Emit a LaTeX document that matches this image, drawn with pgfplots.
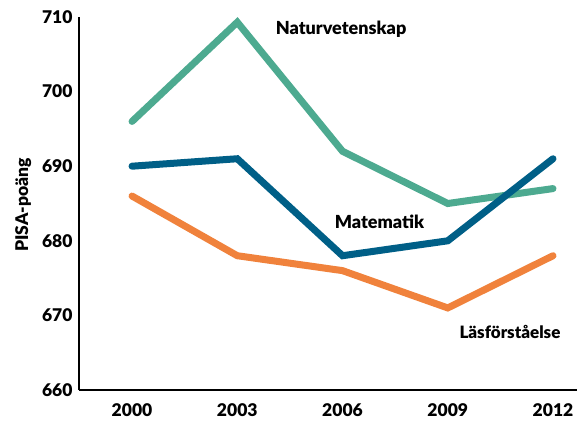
\documentclass[border=0pt]{standalone}
\usepackage{pgfplots}
\pgfplotsset{compat=1.18}
\usepackage{fontspec}
\setmainfont{Lato}[BoldFont={Lato Black}]
\definecolor{natc}{HTML}{4DAA90}
\definecolor{matc}{HTML}{005F87}
\definecolor{lasc}{HTML}{F0823C}
\begin{document}
\begin{tikzpicture}[x=1pt,y=1pt]
\useasboundingbox (0,0) rectangle (577,420);
\begin{axis}[
  at={(79pt,30pt)}, anchor=south west,
  scale only axis,
  width=498pt, height=373pt,
  xmin=-0.504, xmax=4.228,
  ymin=660, ymax=710,
  axis x line*=bottom, axis y line*=left,
  axis line style={line width=2.2pt, -},
  xtick={0,1,2,3,4},
  xticklabels={2000,2003,2006,2009,2012},
  ytick={660,670,...,710},
  major tick length=0pt,
  tick style={draw=none},
  /pgf/number format/assume math mode=true,
  /pgf/number format/1000 sep={},
  ticklabel style={font=\fontsize{17.5}{19}\selectfont\bfseries},
  xticklabel style={yshift=-10pt},
  yticklabel style={xshift=-3pt},
  ylabel={PISA-poäng},
  ylabel style={font=\fontsize{17.5}{19}\selectfont\bfseries, at={(axis description cs:-0.112,0.496)}, anchor=center},
  clip=false,
  every axis plot/.append style={line width=7pt, line join=miter, line cap=round},
]
\addplot[natc] coordinates {(0,696) (1,709.3) (2,692) (3,685) (4,687)};
\addplot[matc] coordinates {(0,690) (1,691) (2,678) (3,680) (4,691)};
\addplot[lasc] coordinates {(0,686) (1,678) (2,676) (3,671) (4,678)};
\node[font=\fontsize{18}{20}\selectfont\bfseries] at (axis cs:1.986,708.4) {Naturvetenskap};
\node[font=\fontsize{18}{20}\selectfont\bfseries] at (axis cs:2.351,682.5) {Matematik};
\node[font=\fontsize{17}{19}\selectfont\bfseries] at (axis cs:3.591,667.8) {Läsförståelse};
\end{axis}
\end{tikzpicture}
\end{document}
